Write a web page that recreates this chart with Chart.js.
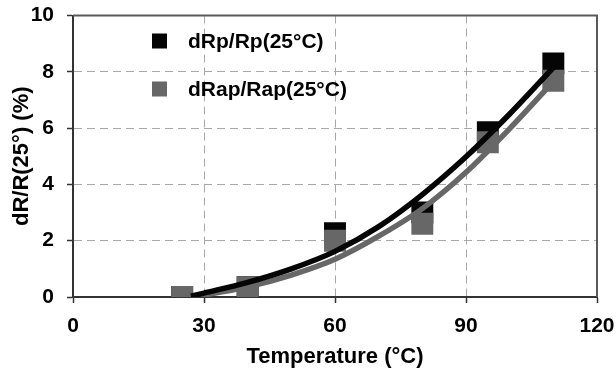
<!DOCTYPE html>
<html>
<head>
<meta charset="utf-8">
<script src="https://cdn.jsdelivr.net/npm/chart.js@4"></script>
<style>
  html, body { margin: 0; padding: 0; background: #fff; }
  #mycanvas { display: block; }
</style>
</head>
<body>
<canvas id="mycanvas" width="616" height="376"></canvas>
<script>
// measured points
var temps = [25, 40, 60, 80, 95, 110];
var rpValues = [0, 0.35, 2.27, 3.0, 5.85, 8.3];
var rapValues = [0, 0.35, 2.0, 2.6, 5.5, 7.68];

// trend lines
var trendTemps = [27, 30, 40, 50, 60, 70, 80, 90, 100, 110];
var rpTrend = [0.03, 0.14, 0.52, 1.0, 1.62, 2.5, 3.64, 4.98, 6.5, 8.15];
var rapTrend = [0.0, 0.07, 0.36, 0.78, 1.34, 2.16, 3.14, 4.43, 5.98, 7.65];

var xTicks = [0, 30, 60, 90, 120];
var yTicks = [0, 2, 4, 6, 8, 10];

var seriesLabels = ["dRp/Rp(25°C)", "dRap/Rap(25°C)"];
var black = "#050505";
var gray = "#676767";
var fontFamily = "'Liberation Sans', Arial, sans-serif";

function toPoints(xs, ys) {
  var pts = [];
  for (var i in xs) {
    pts.push({ x: xs[i], y: ys[i] });
  }
  return pts;
}

// legend drawn inside the plot + top/right frame
var framePlugin = {
  id: "frame",
  afterDatasetsDraw: function(chart) {
    var ctx = chart.ctx;
    var a = chart.chartArea;
    ctx.save();
    ctx.strokeStyle = "#5a5a5a";
    ctx.lineWidth = 2;
    ctx.beginPath();
    ctx.moveTo(a.left, a.top);
    ctx.lineTo(a.right, a.top);
    ctx.lineTo(a.right, a.bottom);
    ctx.stroke();

    var colors = [black, gray];
    var rows = [41, 89];
    ctx.font = "bold 21px " + fontFamily;
    ctx.textBaseline = "middle";
    ctx.textAlign = "left";
    for (var i = 0; i < 2; i++) {
      ctx.fillStyle = colors[i];
      ctx.fillRect(152, rows[i] - 7.5, 15, 15);
      ctx.fillStyle = "#000";
      ctx.fillText(seriesLabels[i], 188, rows[i] + 1);
    }
    ctx.restore();
  }
};

var chartdata = {
  datasets: [
    {
      label: seriesLabels[0] + " fit",
      data: toPoints(trendTemps, rpTrend),
      showLine: true,
      borderColor: black,
      borderWidth: 5.5,
      pointRadius: 0,
      cubicInterpolationMode: "monotone",
      order: 0
    },
    {
      label: seriesLabels[1] + " fit",
      data: toPoints(trendTemps, rapTrend),
      showLine: true,
      borderColor: gray,
      borderWidth: 5.5,
      pointRadius: 0,
      cubicInterpolationMode: "monotone",
      order: 1
    },
    {
      label: seriesLabels[1],
      data: toPoints(temps, rapValues),
      pointStyle: "rect",
      pointRadius: 15.5,
      pointBorderWidth: 0,
      backgroundColor: gray,
      borderColor: gray,
      order: 2
    },
    {
      label: seriesLabels[0],
      data: toPoints(temps, rpValues),
      pointStyle: "rect",
      pointRadius: 15.5,
      pointBorderWidth: 0,
      backgroundColor: black,
      borderColor: black,
      order: 3
    }
  ]
};

var tickFont = { family: fontFamily, size: 21, weight: "bold" };

var LineGraph = new Chart(document.getElementById("mycanvas"), {
  type: "scatter",
  data: chartdata,
  plugins: [framePlugin],
  options: {
    responsive: false,
    animation: false,
    layout: { padding: { top: 15, right: 19, left: 0, bottom: 0 } },
    plugins: {
      legend: { display: false },
      tooltip: { enabled: false }
    },
    scales: {
      x: {
        type: "linear",
        min: 0,
        max: 120,
        afterBuildTicks: function(scale) {
          scale.ticks = xTicks.map(function(v) { return { value: v }; });
        },
        afterFit: function(scale) {
          scale.height = 79;
          scale.paddingLeft = 0;
          scale.paddingRight = 0;
        },
        ticks: { color: "#000", font: tickFont, padding: 11, maxRotation: 0 },
        grid: {
          color: function(c) {
            return (c.tick && (c.tick.value === 0 || c.tick.value === 120)) ? "rgba(0,0,0,0)" : "#a8a8a8";
          },
          lineWidth: 1,
          tickLength: 6,
          tickColor: "#333",
          tickWidth: 1.5,
          tickBorderDash: []
        },
        border: { display: true, color: "#333", width: 2, dash: [8, 5] },
        title: {
          display: true,
          text: "Temperature (°C)",
          color: "#000",
          font: { family: fontFamily, size: 22, weight: "bold" },
          padding: { top: 0, bottom: 6 }
        }
      },
      y: {
        min: 0,
        max: 10,
        afterBuildTicks: function(scale) {
          scale.ticks = yTicks.map(function(v) { return { value: v }; });
        },
        afterFit: function(scale) {
          scale.width = 73;
          scale.paddingTop = 0;
          scale.paddingBottom = 0;
        },
        ticks: { color: "#000", font: tickFont, padding: 13 },
        grid: {
          color: function(c) {
            return (c.tick && (c.tick.value === 0 || c.tick.value === 10)) ? "rgba(0,0,0,0)" : "#a8a8a8";
          },
          lineWidth: 1,
          tickLength: 6,
          tickColor: "#333",
          tickWidth: 1.5,
          tickBorderDash: []
        },
        border: { display: true, color: "#333", width: 2, dash: [8, 5] },
        title: {
          display: true,
          text: "dR/R(25°) (%)",
          color: "#000",
          font: { family: fontFamily, size: 22, weight: "bold" },
          padding: { top: 9, bottom: 0 }
        }
      }
    }
  }
});
</script>
</body>
</html>
